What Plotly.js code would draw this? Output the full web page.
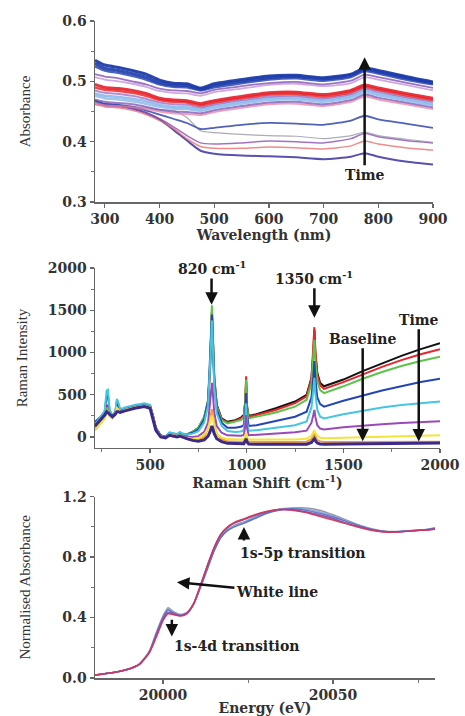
<!DOCTYPE html>
<html><head><meta charset="utf-8">
<script src="https://cdn.plot.ly/plotly-3.0.1.min.js"></script>
<style>body{margin:0;padding:0;background:#fff}#chart{width:465px;height:716px}</style>
</head><body><div id="chart"></div>
<script>
// ---------- Panel 1: UV-vis ----------
const uvX = [282, 300, 325, 350, 375, 400, 425, 450, 475, 500, 550, 600, 650, 700, 750, 775, 800, 850, 900];
const uvA = [0.535, 0.527, 0.523, 0.518, 0.512, 0.502, 0.497, 0.496, 0.489, 0.496, 0.503, 0.509, 0.510, 0.506, 0.512, 0.522, 0.518, 0.508, 0.499];
const uvB = [0.530, 0.522, 0.518, 0.513, 0.507, 0.498, 0.494, 0.493, 0.487, 0.493, 0.500, 0.506, 0.508, 0.504, 0.510, 0.520, 0.516, 0.506, 0.497];
const uvC = [0.525, 0.518, 0.514, 0.509, 0.503, 0.495, 0.491, 0.490, 0.485, 0.490, 0.497, 0.503, 0.505, 0.501, 0.507, 0.517, 0.513, 0.503, 0.495];
const uvD = [0.512, 0.508, 0.505, 0.500, 0.495, 0.488, 0.485, 0.484, 0.480, 0.486, 0.492, 0.497, 0.499, 0.495, 0.501, 0.511, 0.507, 0.498, 0.489];
const uvE = [0.507, 0.503, 0.500, 0.496, 0.491, 0.484, 0.481, 0.480, 0.476, 0.482, 0.488, 0.494, 0.496, 0.492, 0.497, 0.507, 0.503, 0.494, 0.485];
const uvF = [0.495, 0.490, 0.488, 0.485, 0.480, 0.472, 0.469, 0.468, 0.463, 0.468, 0.475, 0.481, 0.482, 0.478, 0.485, 0.494, 0.489, 0.480, 0.472];
const uvG = [0.490, 0.486, 0.484, 0.481, 0.476, 0.469, 0.466, 0.465, 0.460, 0.465, 0.472, 0.478, 0.479, 0.475, 0.482, 0.491, 0.486, 0.477, 0.469];
const uvH = [0.485, 0.481, 0.479, 0.476, 0.471, 0.465, 0.462, 0.461, 0.457, 0.462, 0.469, 0.475, 0.476, 0.472, 0.479, 0.488, 0.483, 0.474, 0.466];
const uvI = [0.480, 0.476, 0.474, 0.471, 0.467, 0.461, 0.458, 0.457, 0.454, 0.459, 0.466, 0.472, 0.473, 0.469, 0.476, 0.485, 0.480, 0.471, 0.463];
const uvJ = [0.476, 0.472, 0.470, 0.467, 0.463, 0.458, 0.455, 0.454, 0.451, 0.456, 0.463, 0.469, 0.470, 0.466, 0.473, 0.482, 0.477, 0.468, 0.460];
const uvK = [0.470, 0.466, 0.464, 0.462, 0.458, 0.453, 0.450, 0.449, 0.447, 0.452, 0.459, 0.465, 0.466, 0.462, 0.469, 0.478, 0.473, 0.465, 0.457];
const uvL = [0.462, 0.460, 0.459, 0.457, 0.454, 0.450, 0.447, 0.446, 0.444, 0.449, 0.456, 0.462, 0.463, 0.459, 0.466, 0.475, 0.470, 0.462, 0.454];
const uvM = [0.468, 0.463, 0.461, 0.458, 0.452, 0.445, 0.438, 0.431, 0.421, 0.423, 0.428, 0.431, 0.430, 0.428, 0.435, 0.443, 0.437, 0.430, 0.423];
const uvN = [0.466, 0.462, 0.460, 0.458, 0.456, 0.453, 0.452, 0.440, 0.418, 0.415, 0.412, 0.410, 0.409, 0.405, 0.410, 0.416, 0.410, 0.404, 0.399];
const uvO = [0.465, 0.460, 0.458, 0.455, 0.448, 0.438, 0.425, 0.410, 0.398, 0.396, 0.398, 0.401, 0.400, 0.398, 0.405, 0.414, 0.408, 0.402, 0.398];
const uvP = [0.462, 0.458, 0.456, 0.452, 0.445, 0.435, 0.422, 0.405, 0.392, 0.389, 0.389, 0.391, 0.390, 0.388, 0.393, 0.401, 0.396, 0.390, 0.386];
const uvQ = [0.468, 0.462, 0.460, 0.455, 0.448, 0.437, 0.420, 0.402, 0.385, 0.380, 0.377, 0.376, 0.374, 0.371, 0.375, 0.381, 0.375, 0.367, 0.362];

// ---------- Panel 2: Raman ----------
const rX = [215, 240, 265, 275, 282, 290, 305, 320, 328, 335, 345, 370, 420, 470, 500, 515, 530, 555, 580, 600, 615, 640, 655, 665, 690, 720, 750, 780, 800, 810, 815, 820, 825, 832, 845, 870, 900, 940, 970, 985, 992, 997, 1002, 1010, 1050, 1150, 1250, 1310, 1335, 1345, 1350, 1355, 1365, 1380, 1400, 1500, 1600, 1700, 1800, 1900, 2000];
const rBlack  = [150, 200, 260, 330, 320, 280, 250, 290, 340, 330, 310, 340, 370, 390, 370, 250, 110, 20, 0, 40, 30, 20, 40, 30, 30, 60, 110, 230, 420, 800, 1150, 1480, 1150, 700, 380, 220, 180, 200, 230, 260, 400, 650, 350, 250, 270, 340, 420, 500, 700, 1000, 1270, 1000, 760, 640, 600, 680, 780, 870, 960, 1040, 1110];
const rRed    = [120, 180, 250, 380, 360, 270, 240, 280, 380, 350, 310, 340, 370, 390, 370, 250, 100, 15, 0, 40, 30, 20, 40, 30, 25, 55, 100, 220, 410, 800, 1160, 1500, 1160, 690, 370, 210, 170, 190, 220, 250, 420, 720, 360, 240, 260, 320, 400, 480, 690, 1030, 1300, 1010, 740, 610, 570, 650, 740, 830, 910, 980, 1040];
const rGreen  = [100, 170, 240, 350, 330, 260, 230, 270, 360, 340, 300, 330, 360, 380, 360, 240, 100, 15, 0, 45, 35, 25, 45, 35, 30, 60, 110, 240, 440, 850, 1250, 1560, 1220, 720, 360, 200, 160, 180, 200, 230, 400, 680, 340, 220, 240, 290, 360, 440, 630, 920, 1150, 900, 660, 555, 520, 600, 690, 770, 840, 900, 950];
const rBlue   = [180, 230, 300, 480, 500, 320, 250, 290, 420, 380, 320, 340, 370, 390, 370, 250, 100, 15, 0, 50, 40, 30, 50, 40, 30, 50, 90, 210, 420, 830, 1180, 1450, 1130, 660, 330, 170, 110, 110, 120, 140, 300, 520, 260, 130, 140, 190, 240, 300, 470, 720, 900, 690, 470, 390, 360, 430, 490, 550, 600, 650, 690];
const rCyan   = [150, 220, 300, 550, 560, 330, 250, 300, 450, 420, 330, 350, 380, 400, 380, 250, 100, 15, 0, 55, 45, 35, 60, 45, 30, 40, 70, 170, 370, 760, 1100, 1380, 1050, 600, 280, 130, 70, 60, 65, 80, 220, 400, 180, 75, 80, 110, 140, 185, 350, 560, 700, 520, 320, 240, 220, 270, 310, 350, 380, 400, 420];
const rPurple = [100, 160, 230, 300, 300, 260, 230, 270, 330, 320, 290, 320, 350, 370, 350, 230, 90, 10, -5, 30, 20, 10, 20, 10, 0, 0, 10, 60, 170, 370, 530, 640, 510, 290, 130, 50, 20, 15, 15, 25, 120, 260, 100, 20, 25, 40, 55, 75, 170, 265, 320, 240, 140, 100, 90, 115, 135, 150, 165, 175, 185];
const rOrange = [80, 150, 220, 320, 310, 250, 220, 270, 350, 330, 290, 320, 350, 370, 350, 230, 90, 10, -10, 30, 20, 10, 20, 10, -20, -40, -40, 0, 100, 200, 280, 330, 260, 150, 40, -25, -50, -55, -55, -50, -20, 20, -40, -55, -58, -60, -60, -55, -25, 15, 40, 5, -35, -52, -58, -58, -58, -57, -56, -55, -55];
const rYellow = [90, 150, 220, 310, 300, 250, 220, 265, 340, 325, 290, 320, 350, 370, 350, 230, 90, 10, -10, 30, 20, 10, 20, 10, -10, -20, -15, 30, 100, 180, 230, 260, 220, 130, 40, -5, -25, -30, -30, -25, 10, 50, -10, -30, -30, -30, -30, -20, 15, 60, 80, 50, 15, -8, -15, -8, 0, 5, 10, 15, 20];
const rNavy   = [130, 190, 260, 300, 290, 270, 240, 270, 300, 300, 290, 310, 340, 360, 340, 220, 80, 0, -10, 20, 10, 0, 10, 0, -20, -40, -50, -35, 10, 60, 100, 130, 95, 40, -20, -55, -75, -80, -82, -80, -50, -20, -60, -82, -85, -88, -90, -86, -65, -35, -20, -42, -72, -83, -85, -82, -80, -78, -75, -72, -70];

// ---------- Panel 3: XANES ----------
const eX = [19980, 19985, 19990, 19993, 19996, 19998, 20000, 20001.5, 20003, 20005, 20007, 20009, 20011, 20013, 20015, 20017, 20019, 20021, 20024, 20027, 20030, 20034, 20038, 20042, 20046, 20050, 20054, 20058, 20062, 20066, 20070, 20074, 20078, 20080];
const xGrey   = [0.02, 0.035, 0.06, 0.09, 0.18, 0.30, 0.41, 0.465, 0.44, 0.42, 0.432, 0.49, 0.60, 0.72, 0.84, 0.93, 0.98, 1.01, 1.035, 1.065, 1.09, 1.115, 1.125, 1.125, 1.11, 1.08, 1.045, 1.01, 0.985, 0.97, 0.97, 0.977, 0.985, 0.995];
const xLblue  = [0.02, 0.035, 0.06, 0.09, 0.175, 0.295, 0.405, 0.455, 0.435, 0.418, 0.43, 0.49, 0.60, 0.72, 0.845, 0.935, 0.98, 1.005, 1.03, 1.06, 1.088, 1.112, 1.122, 1.118, 1.10, 1.072, 1.04, 1.008, 0.982, 0.968, 0.97, 0.976, 0.984, 0.992];
const xBlue   = [0.02, 0.035, 0.06, 0.09, 0.17, 0.29, 0.40, 0.45, 0.43, 0.415, 0.43, 0.49, 0.60, 0.72, 0.84, 0.93, 0.975, 1.00, 1.025, 1.055, 1.085, 1.11, 1.12, 1.11, 1.09, 1.065, 1.035, 1.005, 0.98, 0.968, 0.97, 0.976, 0.983, 0.99];
const xPink   = [0.02, 0.035, 0.06, 0.09, 0.17, 0.275, 0.385, 0.43, 0.422, 0.412, 0.427, 0.49, 0.61, 0.74, 0.86, 0.95, 0.998, 1.028, 1.052, 1.078, 1.098, 1.115, 1.112, 1.098, 1.075, 1.05, 1.022, 0.998, 0.978, 0.966, 0.968, 0.975, 0.981, 0.988];
const xPurple = [0.02, 0.035, 0.06, 0.09, 0.17, 0.28, 0.39, 0.435, 0.425, 0.413, 0.428, 0.49, 0.61, 0.74, 0.86, 0.95, 0.995, 1.025, 1.05, 1.075, 1.095, 1.115, 1.115, 1.10, 1.08, 1.055, 1.025, 1.0, 0.98, 0.968, 0.97, 0.975, 0.982, 0.99];
const xRed    = [0.02, 0.035, 0.06, 0.09, 0.17, 0.27, 0.38, 0.425, 0.42, 0.41, 0.425, 0.49, 0.61, 0.74, 0.86, 0.95, 1.00, 1.03, 1.055, 1.08, 1.10, 1.115, 1.11, 1.095, 1.07, 1.045, 1.02, 0.995, 0.975, 0.965, 0.968, 0.975, 0.98, 0.985];

const traces = [];
function add(x, y, color, width, xa, ya, shape) {
  const line = {color: color, width: width, shape: shape};
  if (shape === 'spline') line.smoothing = 0.6;
  traces.push({x: x, y: y, type: 'scatter', mode: 'lines', line: line, xaxis: xa, yaxis: ya, hoverinfo: 'skip', showlegend: false});
}
// panel 1
[[uvQ,'rgba(60,50,160,0.85)',2],[uvP,'rgba(235,110,110,0.8)',1.5],[uvO,'rgba(140,80,180,0.8)',1.5],[uvN,'rgba(150,150,170,0.8)',1.2],[uvM,'rgba(50,70,170,0.85)',1.8],
 [uvL,'rgba(235,120,160,0.7)',2],[uvK,'rgba(120,80,180,0.75)',2],[uvJ,'rgba(150,190,235,0.9)',2.5],[uvI,'rgba(140,185,235,0.9)',2.5],[uvH,'rgba(150,90,190,0.7)',2],
 [uvG,'rgba(235,40,40,0.85)',2.5],[uvF,'rgba(230,30,40,0.9)',3],[uvE,'rgba(190,130,210,0.7)',1.8],[uvD,'rgba(130,80,180,0.8)',1.8],
 [uvC,'rgba(40,70,180,0.85)',2.5],[uvB,'rgba(30,60,170,0.9)',3],[uvA,'rgba(30,60,170,0.95)',3]
].forEach(s => add(uvX, s[0], s[1], s[2], 'x', 'y', 'spline'));
// panel 2
[[rBlack,'#111111'],[rRed,'#e8252a'],[rGreen,'#5cc44a'],[rBlue,'#2545b5'],[rCyan,'#45c6e0'],[rPurple,'#9a4ab8'],[rOrange,'#f29a3a'],[rYellow,'#f4e43a'],[rNavy,'#3b2a8a']
].forEach((s,i) => add(rX, s[0], s[1], i===8 ? 3 : 2, 'x2', 'y2', 'linear'));
// panel 3
[[xGrey,'rgba(140,140,150,0.9)'],[xLblue,'rgba(140,165,220,0.9)'],[xBlue,'rgba(80,110,200,0.9)'],[xPink,'rgba(220,130,170,0.9)'],[xPurple,'rgba(130,80,170,0.9)'],[xRed,'rgba(210,50,90,0.9)']
].forEach(s => add(eX, s[0], s[1], 1.5, 'x3', 'y3', 'spline'));

const tickFont = {family: 'DejaVu Serif', size: 14, color: '#333', weight: 'bold'};
const titleFontX = {family: 'DejaVu Serif', size: 14, color: '#333', weight: 'bold'};
const titleFontY = {family: 'Liberation Serif', size: 15, color: '#333'};
function axis(extra) {
  return Object.assign({showline: true, linecolor: '#666', linewidth: 1.5, ticks: 'outside', ticklen: 4, tickwidth: 1.3, tickcolor: '#666',
    showgrid: false, zeroline: false, tickfont: tickFont, fixedrange: true}, extra);
}
const minor = (d) => ({dtick: d, ticks: 'outside', ticklen: 3, tickwidth: 1, tickcolor: '#777'});

const annFont = {family: 'DejaVu Serif', size: 14, color: '#222', weight: 'bold'};
// label with its arrow: text sits at (ax, ay), arrow head at (x, y)
function labelArrow(xr, yr, x, y, ax, ay, t) {
  return {xref: xr, yref: yr, axref: xr, ayref: yr, x: x, y: y, ax: ax, ay: ay, text: t, showarrow: true,
    arrowhead: 2, arrowsize: 1, arrowwidth: 2.5, arrowcolor: '#111', standoff: 0, startstandoff: 0, font: annFont};
}
function arrow(xr, yr, x, y, ax, ay) {
  return {xref: xr, yref: yr, axref: xr, ayref: yr, x: x, y: y, ax: ax, ay: ay, text: '', showarrow: true,
    arrowhead: 2, arrowsize: 1, arrowwidth: 2.5, arrowcolor: '#111'};
}
function label(xr, yr, x, y, t) {
  return {xref: xr, yref: yr, x: x, y: y, text: t, showarrow: false, font: annFont};
}

const layout = {
  width: 465, height: 716, paper_bgcolor: '#fff', plot_bgcolor: '#fff',
  margin: {l: 95, r: 25, t: 21, b: 38},
  showlegend: false,
  xaxis: axis({domain: [0, 0.9797], range: [282, 900], dtick: 100, tick0: 300, anchor: 'y',
    title: {text: 'Wavelength (nm)', font: titleFontX, standoff: 2}}),
  yaxis: axis({domain: [0.7245, 1], range: [0.3, 0.6], dtick: 0.1, tickformat: '.1f', anchor: 'x', minor: minor(0.05),
    title: {text: 'Absorbance', font: titleFontY, standoff: 28}}),
  xaxis2: axis({domain: [0, 1], range: [215, 2000], dtick: 500, tick0: 0, anchor: 'y2', minor: minor(250),
    title: {text: 'Raman Shift (cm<sup>-1</sup>)', font: titleFontX, standoff: 2}}),
  yaxis2: axis({domain: [0.3501, 0.6240], range: [-130, 2000], dtick: 500, tick0: 0, anchor: 'x2', minor: minor(250),
    title: {text: 'Raman Intensity', font: titleFontY, standoff: 16}}),
  xaxis3: axis({domain: [0, 0.9855], range: [19980, 20080], dtick: 50, tick0: 20000, tickformat: 'd', anchor: 'y3', minor: minor(25),
    title: {text: 'Energy (eV)', font: titleFontX, standoff: 2}}),
  yaxis3: axis({domain: [0, 0.2760], range: [0, 1.2], dtick: 0.4, tick0: 0, tickformat: '.1f', anchor: 'x3', minor: minor(0.2),
    title: {text: 'Normalised Absorbance', font: titleFontY, standoff: 28}}),
  annotations: [
    labelArrow('x', 'y', 775, 0.540, 775, 0.345, 'Time'),
    labelArrow('x2', 'y2', 818, 1566, 818, 2000, '820 cm<sup>-1</sup>'),
    labelArrow('x2', 'y2', 1350, 1412, 1350, 1885, '1350 cm<sup>-1</sup>'),
    labelArrow('x2', 'y2', 1600, -50, 1600, 1164, 'Baseline'),
    labelArrow('x2', 'y2', 1890, -53, 1890, 1389, 'Time'),
    arrow('x3', 'y3', 20023.8, 1.0, 20023.8, 0.9),
    label('x3', 'y3', 20041, 0.83, '1s-5p transition'),
    labelArrow('x3', 'y3', 20004.1, 0.634, 20033.5, 0.57, 'White line'),
    arrow('x3', 'y3', 20002.6, 0.275, 20002.6, 0.395),
    label('x3', 'y3', 20021.5, 0.21, '1s-4d transition')
  ]
};
Plotly.newPlot('chart', traces, layout, {staticPlot: true, displayModeBar: false});
</script></body></html>
